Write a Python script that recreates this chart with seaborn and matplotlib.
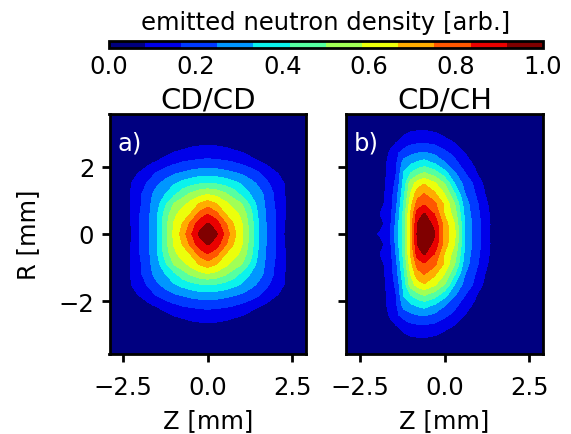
import numpy as np
import matplotlib
matplotlib.use("Agg")
import matplotlib.pyplot as plt
import seaborn as sns

# grid, panel a is stored as one quadrant
z_a = [0, 0.25, 0.5, 0.75, 1.0, 1.25, 1.5, 1.75, 2.0, 2.25, 2.5, 2.9]
r_grid_a = [0, 0.3, 0.6, 0.9, 1.2, 1.5, 1.8, 2.1, 2.4, 2.7, 3.0, 3.56]
density_a = [
    [1.00, 0.93, 0.82, 0.70, 0.60, 0.47, 0.33, 0.24, 0.167, 0.083, 0.02, 0],
    [0.925, 0.88, 0.77, 0.67, 0.59, 0.47, 0.33, 0.24, 0.167, 0.088, 0.025, 0],
    [0.83, 0.77, 0.67, 0.62, 0.56, 0.45, 0.32, 0.235, 0.167, 0.095, 0.03, 0],
    [0.71, 0.67, 0.61, 0.55, 0.50, 0.40, 0.30, 0.23, 0.155, 0.095, 0.03, 0],
    [0.57, 0.55, 0.51, 0.46, 0.39, 0.33, 0.28, 0.22, 0.15, 0.09, 0.025, 0],
    [0.42, 0.41, 0.39, 0.36, 0.325, 0.28, 0.235, 0.18, 0.125, 0.085, 0.02, 0],
    [0.30, 0.295, 0.28, 0.26, 0.24, 0.21, 0.175, 0.13, 0.095, 0.05, 0, 0],
    [0.20, 0.195, 0.185, 0.175, 0.155, 0.13, 0.10, 0.07, 0.02, 0, 0, 0],
    [0.125, 0.12, 0.115, 0.105, 0.09, 0.06, 0.02, 0, 0, 0, 0, 0],
    [0.07, 0.068, 0.06, 0.04, 0.02, 0, 0, 0, 0, 0, 0, 0],
    [0.01, 0.01, 0, 0, 0, 0, 0, 0, 0, 0, 0, 0],
    [0, 0, 0, 0, 0, 0, 0, 0, 0, 0, 0, 0],
]

# panel b is only symmetric in R
z_b = [-2.9, -2.8, -2.2, -1.9, -1.6, -1.4, -1.2, -1.0, -0.8, -0.6, -0.3, 0, 0.3, 0.6, 0.9, 1.2, 1.5, 2.9]
r_grid_b = [0, 0.3, 0.6, 0.9, 1.2, 1.5, 1.8, 2.1, 2.4, 2.7, 3.0, 3.3, 3.56]
density_b = [
    [0.09, 0, 0.02, 0.10, 0.155, 0.29, 0.46, 0.67, 0.93, 0.99, 0.925, 0.72, 0.60, 0.33, 0.21, 0.127, 0.03, 0],
    [0, 0, 0, 0.04, 0.15, 0.29, 0.46, 0.67, 0.92, 0.96, 0.90, 0.71, 0.58, 0.33, 0.21, 0.13, 0.03, 0],
    [0, 0, 0, 0.083, 0.14, 0.27, 0.44, 0.67, 0.87, 0.925, 0.83, 0.66, 0.54, 0.31, 0.20, 0.125, 0.02, 0],
    [0, 0, 0, 0.06, 0.12, 0.25, 0.42, 0.63, 0.78, 0.82, 0.77, 0.65, 0.50, 0.29, 0.19, 0.11, 0, 0],
    [0, 0, 0, 0.05, 0.12, 0.23, 0.39, 0.58, 0.71, 0.75, 0.68, 0.58, 0.42, 0.25, 0.167, 0.08, 0, 0],
    [0, 0, 0, 0.05, 0.11, 0.20, 0.36, 0.54, 0.62, 0.66, 0.60, 0.50, 0.33, 0.22, 0.15, 0.06, 0, 0],
    [0, 0, 0, 0.04, 0.11, 0.175, 0.34, 0.42, 0.47, 0.51, 0.46, 0.37, 0.26, 0.17, 0.10, 0.01, 0, 0],
    [0, 0, 0, 0.03, 0.11, 0.167, 0.29, 0.32, 0.35, 0.37, 0.33, 0.26, 0.19, 0.125, 0.065, 0, 0, 0],
    [0, 0, 0, 0, 0.10, 0.155, 0.20, 0.23, 0.25, 0.26, 0.235, 0.19, 0.14, 0.083, 0.03, 0, 0, 0],
    [0, 0, 0, 0, 0.05, 0.09, 0.125, 0.15, 0.16, 0.165, 0.15, 0.115, 0.083, 0.04, 0, 0, 0, 0],
    [0, 0, 0, 0, 0, 0.02, 0.07, 0.09, 0.10, 0.105, 0.088, 0.06, 0.01, 0, 0, 0, 0, 0],
    [0, 0, 0, 0, 0, 0, 0, 0.01, 0.015, 0.015, 0.01, 0, 0, 0, 0, 0, 0, 0],
    [0, 0, 0, 0, 0, 0, 0, 0, 0, 0, 0, 0, 0, 0, 0, 0, 0, 0],
]

panel_titles = ["CD/CD", "CD/CH"]
panel_tags = ["a)", "b)"]
z_ticks = [-2.5, 0.0, 2.5]
r_ticks = [-2, 0, 2]
cbar_ticks = [0.0, 0.2, 0.4, 0.6, 0.8, 1.0]
n_bands = 12


def mirror_r(r_vals, values):
    r_vals = np.array(r_vals)
    values = np.array(values, dtype=float)
    r_full = np.concatenate([-r_vals[::-1], r_vals[1:]])
    v_full = np.vstack([values[::-1], values[1:]])
    return r_full, v_full


sns.set_theme(style="ticks")
plt.rcParams["font.family"] = ["DejaVu Sans"]
plt.rcParams["axes.linewidth"] = 2.0
plt.rcParams["axes.edgecolor"] = "black"
plt.rcParams["text.color"] = "black"
plt.rcParams["axes.labelcolor"] = "black"
plt.rcParams["xtick.color"] = "black"
plt.rcParams["ytick.color"] = "black"

W, H = 571, 435
fig = plt.figure(figsize=(W / 100, H / 100), dpi=100)


def px_axes(x0, y0, x1, y1):
    return fig.add_axes([x0 / W, 1 - y1 / H, (x1 - x0) / W, (y1 - y0) / H])


ax_a = px_axes(109.5, 115, 306, 355)
ax_b = px_axes(346, 115, 543, 355)
cax = px_axes(108.5, 42, 543, 49)

cmap = plt.get_cmap("jet", n_bands)
levels = np.linspace(0, 1, n_bands + 1)

# panel a: mirror the quadrant in Z, then in R
quad = np.array(density_a, dtype=float)
z_full_a = np.concatenate([-np.array(z_a)[::-1], np.array(z_a)[1:]])
r_full_a, v_a = mirror_r(r_grid_a, np.hstack([quad[:, ::-1], quad[:, 1:]]))
r_full_b, v_b = mirror_r(r_grid_b, density_b)

cf = ax_a.contourf(z_full_a, r_full_a, v_a, levels=levels, cmap=cmap, vmin=0, vmax=1)
ax_b.contourf(z_b, r_full_b, v_b, levels=levels, cmap=cmap, vmin=0, vmax=1)

for i, ax in enumerate([ax_a, ax_b]):
    ax.set_xlim(-2.9, 2.9)
    ax.set_ylim(-3.56, 3.56)
    ax.set_xticks(z_ticks)
    ax.set_yticks(r_ticks)
    ax.tick_params(labelsize=17.5, width=2.0, length=6, pad=5)
    ax.tick_params(axis="x", pad=9)
    ax.set_title(panel_titles[i], fontsize=21, pad=5)
    ax.set_xlabel("Z [mm]", fontsize=17.5, labelpad=7)
    ax.text(0.04, 0.85, panel_tags[i], transform=ax.transAxes, color="white", fontsize=17.5)
ax_a.set_ylabel("R [mm]", fontsize=17.5, labelpad=13)
ax_b.tick_params(labelleft=False)

cb = fig.colorbar(cf, cax=cax, orientation="horizontal")
cb.set_ticks(cbar_ticks)
cb.ax.tick_params(labelsize=17.5, length=0, pad=4)
cb.outline.set_linewidth(2.0)
cb.ax.xaxis.set_label_position("top")
cb.set_label("emitted neutron density [arb.]", fontsize=17.5, labelpad=9)

fig.savefig("out.png", dpi=100)
